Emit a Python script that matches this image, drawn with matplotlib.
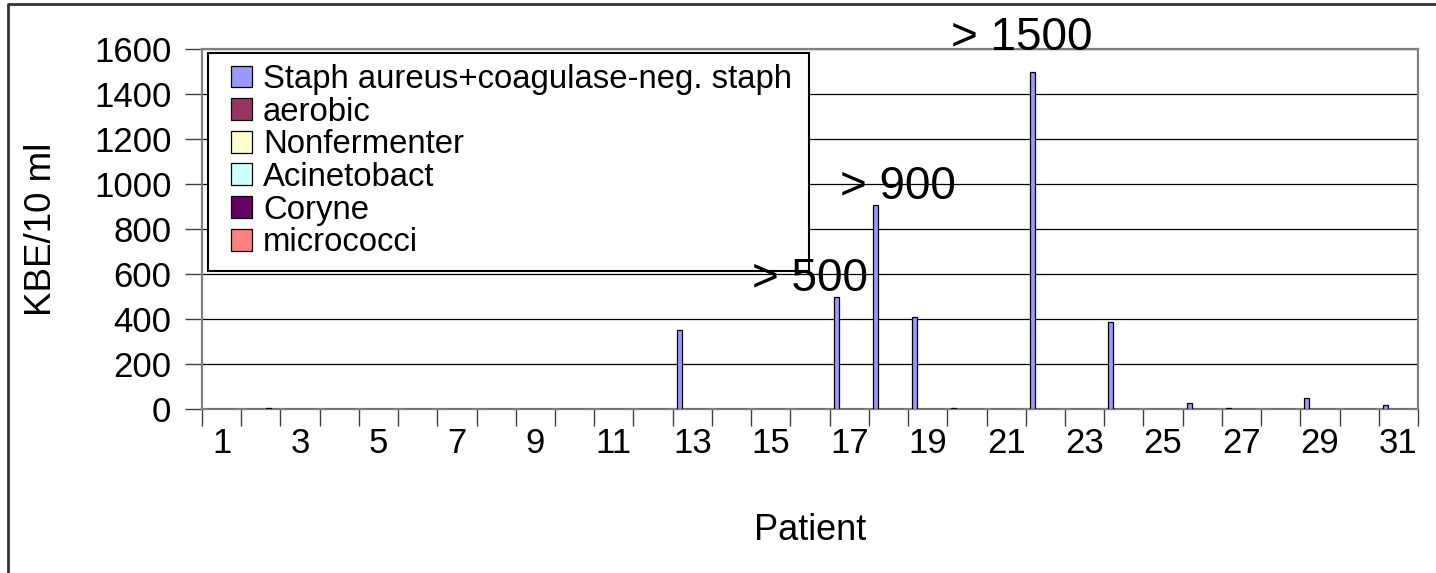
import numpy as np
import matplotlib.pyplot as plt
from matplotlib.lines import Line2D
from matplotlib.patches import Rectangle

plt.rcParams['font.family'] = ['Liberation Sans', 'DejaVu Sans']

# data (KBE/10 ml per patient)
patients = list(range(1, 32))
series_names = ['Staph aureus+coagulase-neg. staph', 'aerobic', 'Nonfermenter',
                'Acinetobact', 'Coryne', 'micrococci']
series_colors = ['#9999FF', '#993366', '#FFFFCC', '#CCFFFF', '#660066', '#FF8080']

staph = [0, 0, 0, 0, 0, 0, 0, 0, 0, 0, 0, 0, 350, 0, 0, 0, 500, 905, 410, 5,
         0, 1500, 0, 385, 0, 25, 5, 0, 50, 0, 20]
aerobic = [0] * 31
nonfermenter = [0] * 31
acinetobact = [0] * 31
coryne = [0, 5] + [0] * 29
micrococci = [0] * 31
all_series = [staph, aerobic, nonfermenter, acinetobact, coryne, micrococci]

annot_text = ['> 500', '> 900', '> 1500']
annot_patient = [17, 18, 22]

W, H = 1436, 573
fig = plt.figure(figsize=(W / 100, H / 100), dpi=100)
ax = fig.add_axes([202/W, 1-409/H, (1418-202)/W, (409-49)/H])

# Excel-like clustered bars, gap width 150%
n = len(all_series)
w = 1.0 / (n + 1.5)
x = np.arange(len(patients))
for k, (vals, name, col) in enumerate(zip(all_series, series_names, series_colors)):
    ax.bar(x - 0.5 + w * (k + 1.25), vals, width=w, color=col,
           edgecolor='black', linewidth=0.9, label=name, zorder=3)

ax.set_xlim(-0.5, len(patients) - 0.5)
ax.set_ylim(0, 1600)
ax.set_yticks(np.arange(0, 1601, 200))
ax.yaxis.grid(True, color='black', linewidth=0.9, zorder=0)

ax.set_xticks(x[::2])
ax.set_xticklabels([str(p) for p in patients[::2]])
ax.set_xticks(np.arange(-0.5, len(patients), 1), minor=True)
ax.tick_params(axis='x', which='major', length=0, pad=13, labelsize=25)
ax.tick_params(axis='x', which='minor', length=12, width=1, color='#404040')
ax.tick_params(axis='y', length=12, width=1, color='#404040', pad=10, labelsize=25)

for s in ax.spines.values():
    s.set_color('#808080')
    s.set_linewidth(1.6)

ax.set_xlabel('Patient', fontsize=26, labelpad=38)
ax.set_ylabel('KBE/10 ml', fontsize=26.5, labelpad=25)

# the "> ..." labels over the cut-off bars
for t, p in zip(annot_text, annot_patient):
    i = patients.index(p)
    v = all_series[0][i]
    if p == 17:
        ax.text(i - 1.0, v + 78, t, fontsize=33, ha='center', va='center', zorder=7)
    elif p == 18:
        ax.text(i + 0.23, v + 80, t, fontsize=33, ha='center', va='center', zorder=7)
    else:
        ax.text(i - 0.6, v + 148, t, fontsize=33, ha='center', va='center',
                zorder=7, clip_on=False)

# legend box drawn separately so the inner padding can differ per side
ax.add_patch(Rectangle((207.7/W, 1-271/H), (809-207.7)/W, (271-53)/H,
                       transform=fig.transFigure, facecolor='white',
                       edgecolor='black', linewidth=1.5, zorder=5, clip_on=False))
leg = ax.legend(loc='upper left', bbox_to_anchor=(231/W, 1-64/H),
                bbox_transform=fig.transFigure, borderaxespad=0, fontsize=23.7,
                frameon=False, handlelength=0.64, handleheight=0.64,
                handletextpad=0.33, labelspacing=0.05, borderpad=0)
leg.set_zorder(6)

# outer chart border (only left and top are visible)
fig.add_artist(Line2D([8/W, 8/W, 1.0], [0.0, 1-4/H, 1-4/H],
                      transform=fig.transFigure, color='#333333', linewidth=2))

fig.savefig('out.png', dpi=100)
